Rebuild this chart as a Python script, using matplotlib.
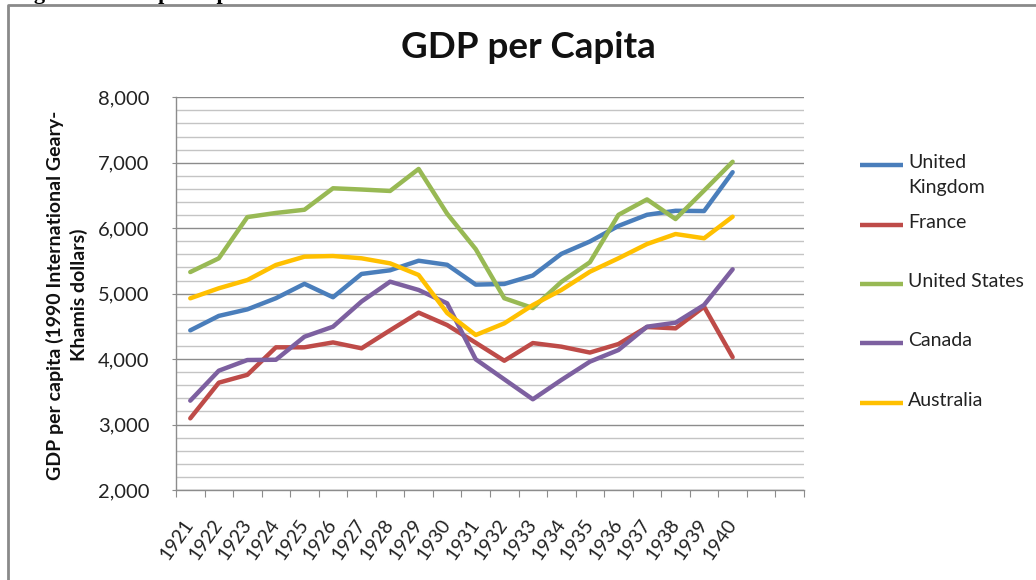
import matplotlib
matplotlib.use("Agg")
import matplotlib.pyplot as plt
from matplotlib.lines import Line2D
import numpy as np

# ---- data ----
years = [str(y) for y in range(1921, 1941)]
united_kingdom = [4439, 4660, 4760, 4930, 5150, 4945, 5301, 5357, 5503, 5441,
                  5138, 5148, 5277, 5608, 5797, 6035, 6205, 6266, 6262, 6856]
france = [3095, 3640, 3760, 4180, 4180, 4255, 4165, 4440, 4710, 4520,
          4250, 3975, 4245, 4190, 4100, 4230, 4490, 4470, 4800, 4030]
united_states = [5330, 5540, 6170, 6233, 6282, 6610, 6591, 6569, 6905, 6220,
                 5680, 4930, 4780, 5180, 5480, 6204, 6440, 6140, 6575, 7015]
canada = [3365, 3823, 3986, 3990, 4342, 4495, 4880, 5183, 5056, 4852,
          3997, 3691, 3386, 3681, 3961, 4139, 4495, 4556, 4827, 5372]
australia = [4929, 5082, 5208, 5438, 5565, 5575, 5540, 5463, 5285, 4704,
             4368, 4546, 4826, 5056, 5335, 5540, 5758, 5911, 5846, 6176]

series_names = ["United\nKingdom", "France", "United States", "Canada", "Australia"]
series_values = [united_kingdom, france, united_states, canada, australia]
series_colors = ["#4A7EBB", "#BE4B48", "#98B954", "#7D60A0", "#FFC000"]
n_slots = 22  # category axis has two empty slots after 1940

W, H = 1036, 580
FONT = "Lato"
plt.rcParams["font.family"] = [FONT, "DejaVu Sans"]

fig = plt.figure(figsize=(W / 100, H / 100), dpi=100)

def px(x, y):
    return (x / W, 1 - y / H)

left, right, top, bottom = 176, 804, 97.3, 490
ax = fig.add_axes([left / W, 1 - bottom / H, (right - left) / W, (bottom - top) / H])

x = np.arange(len(years))
for vals, col in zip(series_values, series_colors):
    ax.plot(x, vals, color=col, lw=3.2, solid_joinstyle="round",
            solid_capstyle="round", zorder=3)

ax.set_xlim(-0.5, n_slots - 0.5)
ax.set_ylim(2000, 8000)

# gridlines
for v in range(2000, 8001, 200):
    if v % 1000 == 0:
        ax.axhline(v, color="#8C8C8C", lw=1.0, zorder=1)
    else:
        ax.axhline(v, color="#C4C4C4", lw=1.0, zorder=1)

# y ticks
ax.set_yticks(range(2000, 8001, 1000))
ax.set_yticklabels([f"{v:,}" for v in range(2000, 8001, 1000)])
ax.tick_params(axis="y", length=3, color="#8C8C8C", labelsize=14.5,
               labelcolor="#222222", pad=16)

# x ticks: marks at category boundaries, labels at centres
ax.set_xticks(np.arange(-0.5, n_slots, 1.0))
ax.set_xticklabels([])
ax.tick_params(axis="x", which="major", length=5, color="#8C8C8C", direction="out")
ax.set_xticks(x, minor=True)
ax.set_xticklabels(years, minor=True, rotation=55, ha="right",
                   rotation_mode="anchor", va="center")
ax.tick_params(axis="x", which="minor", length=0, pad=22, labelsize=14,
               labelcolor="#222222")

for s in ["top", "right"]:
    ax.spines[s].set_visible(False)
for s in ["left", "bottom"]:
    ax.spines[s].set_color("#8C8C8C")
    ax.spines[s].set_linewidth(1.0)

# title
fig.text(*px(528, 48), "GDP per Capita", ha="center", va="center",
         fontsize=26.5, fontweight="bold", color="#111111")

# y label
fig.text(*px(67, 295), "GDP per capita (1990 International Geary-\nKhamis dollars)",
         ha="center", va="center", rotation=90, fontsize=14,
         fontweight="bold", linespacing=1.35, color="#111111",
         multialignment="center")

# legend (manual, handle aligned with first text line)
leg_y = [165, 225, 284, 343, 403]
for name, col, yy in zip(series_names, series_colors, leg_y):
    fig.add_artist(Line2D([860 / W, 903 / W], [1 - yy / H, 1 - yy / H],
                          color=col, lw=3.2, solid_capstyle="butt",
                          transform=fig.transFigure))
    fig.text(908 / W, 1 - (yy - 11) / H, name, ha="left", va="top",
             fontsize=14, color="#222222", linespacing=1.55)

# outer frame of the embedded chart
fig.add_artist(Line2D([8 / W, 8 / W, 1.0], [0.0, 1 - 4.5 / H, 1 - 4.5 / H],
                      color="#8A8A8A", lw=2.0, transform=fig.transFigure))

# caption above the frame, cut off by the top edge as in the source page
fig.text(*px(14, -1), "Figure 1: GDP per capita", ha="left", va="baseline",
         fontsize=16, fontweight="bold", family="Liberation Serif", color="black")

fig.savefig("out.png", dpi=100)
